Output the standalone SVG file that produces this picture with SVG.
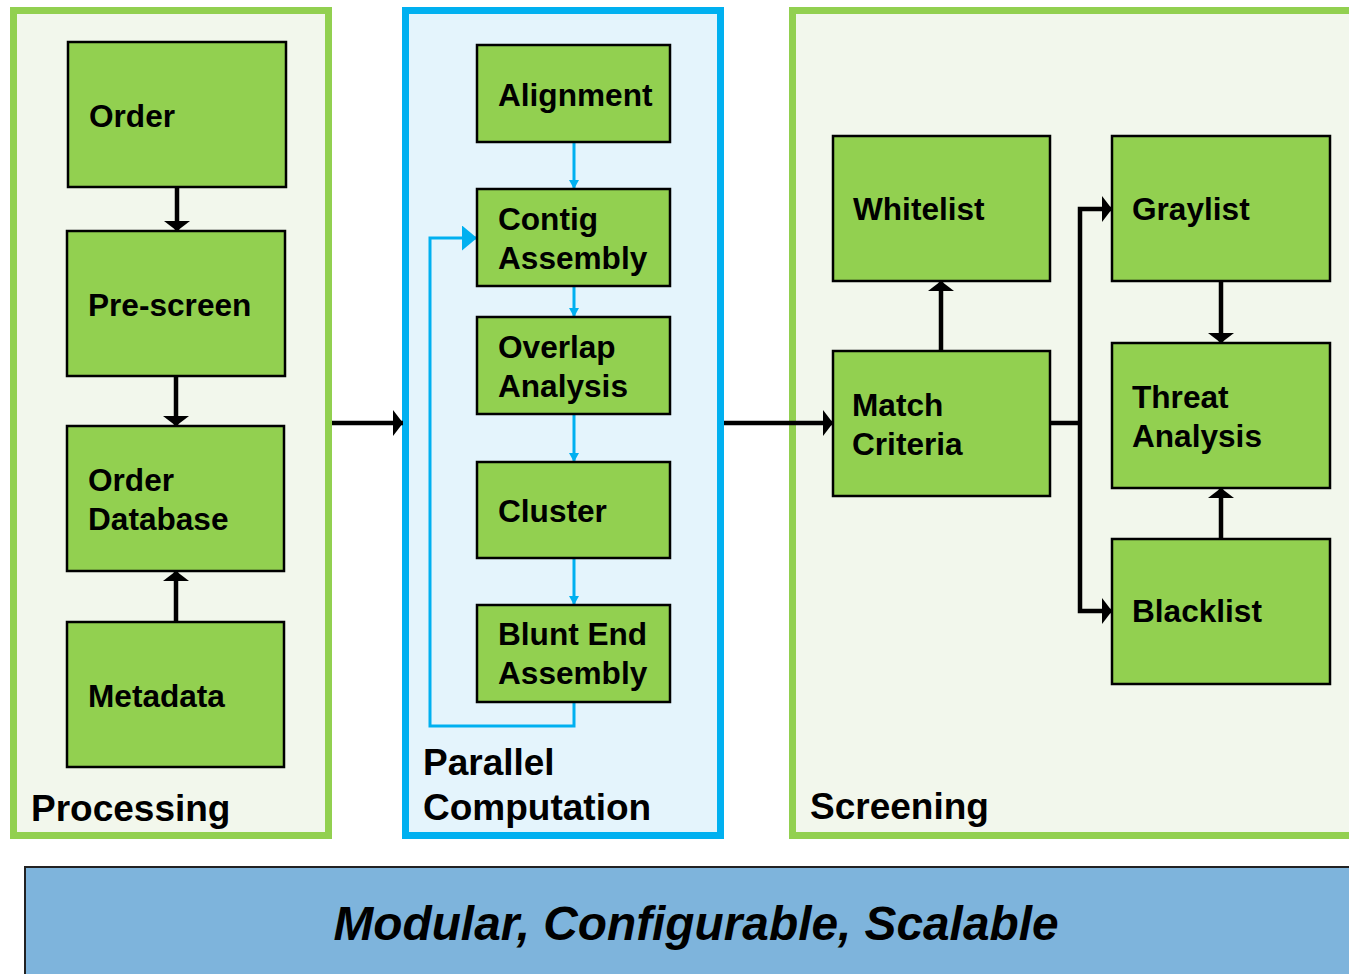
<svg xmlns="http://www.w3.org/2000/svg" width="1349" height="974" viewBox="0 0 1349 974">
<defs>
<style>
.node{fill:#92D050;stroke:#000;stroke-width:2.5}
.t{font-family:"Liberation Sans",Arial,sans-serif;font-weight:bold;font-size:31.6px;fill:#000}
.title{font-family:"Liberation Sans",Arial,sans-serif;font-weight:bold;font-size:37px;fill:#000}
.blk{fill:none;stroke:#000;stroke-width:4.5}
.blu{fill:none;stroke:#00B0F0;stroke-width:3}
</style>
<marker id="ab" viewBox="0 0 10 26" refX="10" refY="13" markerWidth="10" markerHeight="26" markerUnits="userSpaceOnUse" orient="auto">
<path d="M0,0 L10,13 L0,26 Z" fill="#000"/>
</marker>
<marker id="as" viewBox="0 0 9 10" refX="9" refY="5" markerWidth="9" markerHeight="10" markerUnits="userSpaceOnUse" orient="auto">
<path d="M0,0 L9,5 L0,10 Z" fill="#00B0F0"/>
</marker>
<marker id="al" viewBox="0 0 15 25" refX="15" refY="12.5" markerWidth="15" markerHeight="25" markerUnits="userSpaceOnUse" orient="auto">
<path d="M0,0 L15,12.5 L0,25 Z" fill="#00B0F0"/>
</marker>
</defs>
<rect width="1349" height="974" fill="#fff"/>

<g id="panel-processing">
<rect x="13.5" y="10.5" width="315" height="825" fill="#F2F7EC" stroke="#92D050" stroke-width="7"/>
<text class="title" x="31" y="821">Processing</text>
</g>
<g id="panel-parallel">
<rect x="405.5" y="10.5" width="315" height="825" fill="#E4F4FC" stroke="#00B0F0" stroke-width="7"/>
<text class="title" x="423" y="775">Parallel</text>
<text class="title" x="423" y="820">Computation</text>
</g>
<g id="panel-screening">
<rect x="792.5" y="10.5" width="620" height="825" fill="#F2F7EC" stroke="#92D050" stroke-width="7"/>
<text class="title" x="810" y="819">Screening</text>
</g>
<g id="banner">
<rect x="25" y="867" width="1340" height="120" fill="#7EB4DC" stroke="#222" stroke-width="2"/>
<text x="696" y="940" text-anchor="middle" font-family="'Liberation Sans',Arial,sans-serif" font-weight="bold" font-style="italic" font-size="47.8" fill="#000">Modular, Configurable, Scalable</text>
</g>

<g id="connectors">
<line class="blk" x1="177" y1="187" x2="177" y2="231" marker-end="url(#ab)"/>
<line class="blk" x1="176" y1="376" x2="176" y2="426" marker-end="url(#ab)"/>
<line class="blk" x1="176" y1="622" x2="176" y2="571" marker-end="url(#ab)"/>
<line class="blk" x1="332" y1="423" x2="403" y2="423" marker-end="url(#ab)"/>
<line class="blk" x1="724" y1="423" x2="833" y2="423" marker-end="url(#ab)"/>
<line class="blu" x1="574" y1="142" x2="574" y2="189" marker-end="url(#as)"/>
<line class="blu" x1="574" y1="286" x2="574" y2="317" marker-end="url(#as)"/>
<line class="blu" x1="574" y1="414" x2="574" y2="462" marker-end="url(#as)"/>
<line class="blu" x1="574" y1="558" x2="574" y2="605" marker-end="url(#as)"/>
<polyline class="blu" points="574,702 574,726 430,726 430,238 477,238" marker-end="url(#al)"/>
<line class="blk" x1="941" y1="351" x2="941" y2="281" marker-end="url(#ab)"/>
<line class="blk" x1="1050" y1="423" x2="1080" y2="423"/>
<polyline class="blk" points="1080,423 1080,209 1112,209" marker-end="url(#ab)"/>
<polyline class="blk" points="1080,423 1080,611 1112,611" marker-end="url(#ab)"/>
<line class="blk" x1="1221" y1="281" x2="1221" y2="343" marker-end="url(#ab)"/>
<line class="blk" x1="1221" y1="539" x2="1221" y2="488" marker-end="url(#ab)"/>
</g>

<g id="node-order"><rect class="node" x="68" y="42" width="218" height="145"/><text class="t" x="89" y="127">Order</text></g>
<g id="node-prescreen"><rect class="node" x="67" y="231" width="218" height="145"/><text class="t" x="88" y="316">Pre-screen</text></g>
<g id="node-orderdb"><rect class="node" x="67" y="426" width="217" height="145"/><text class="t" x="88" y="491">Order</text><text class="t" x="88" y="530">Database</text></g>
<g id="node-metadata"><rect class="node" x="67" y="622" width="217" height="145"/><text class="t" x="88" y="707">Metadata</text></g>

<g id="node-alignment"><rect class="node" x="477" y="45" width="193" height="97"/><text class="t" x="498" y="106">Alignment</text></g>
<g id="node-contig"><rect class="node" x="477" y="189" width="193" height="97"/><text class="t" x="498" y="230">Contig</text><text class="t" x="498" y="269">Assembly</text></g>
<g id="node-overlap"><rect class="node" x="477" y="317" width="193" height="97"/><text class="t" x="498" y="358">Overlap</text><text class="t" x="498" y="397">Analysis</text></g>
<g id="node-cluster"><rect class="node" x="477" y="462" width="193" height="96"/><text class="t" x="498" y="522">Cluster</text></g>
<g id="node-blunt"><rect class="node" x="477" y="605" width="193" height="97"/><text class="t" x="498" y="645">Blunt End</text><text class="t" x="498" y="684">Assembly</text></g>

<g id="node-whitelist"><rect class="node" x="833" y="136" width="217" height="145"/><text class="t" x="853" y="220">Whitelist</text></g>
<g id="node-match"><rect class="node" x="833" y="351" width="217" height="145"/><text class="t" x="852" y="416">Match</text><text class="t" x="852" y="455">Criteria</text></g>
<g id="node-graylist"><rect class="node" x="1112" y="136" width="218" height="145"/><text class="t" x="1132" y="220">Graylist</text></g>
<g id="node-threat"><rect class="node" x="1112" y="343" width="218" height="145"/><text class="t" x="1132" y="408">Threat</text><text class="t" x="1132" y="447">Analysis</text></g>
<g id="node-blacklist"><rect class="node" x="1112" y="539" width="218" height="145"/><text class="t" x="1132" y="622">Blacklist</text></g>
</svg>
